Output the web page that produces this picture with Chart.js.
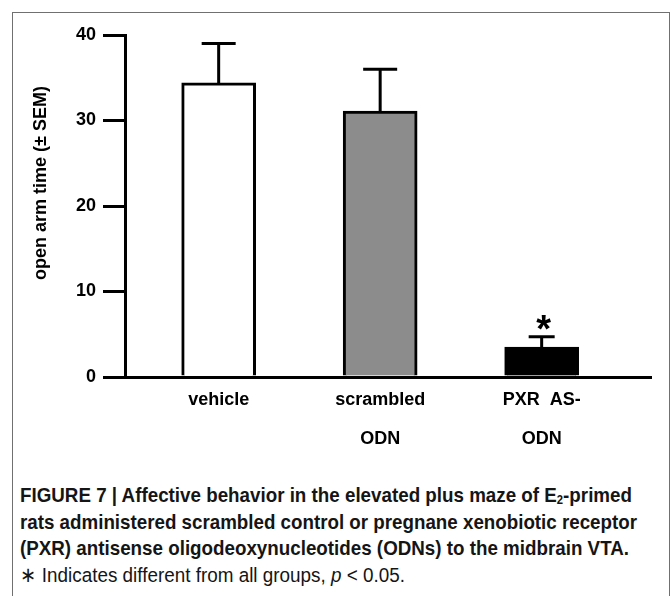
<!DOCTYPE html>
<html><head><meta charset="utf-8">
<script src="https://cdn.jsdelivr.net/npm/chart.js@4.4.1/dist/chart.umd.min.js"></script>
<style>
html,body{margin:0;padding:0;background:#fff;width:672px;height:596px;overflow:hidden}
#frame{position:absolute;left:12px;top:12px;width:658px;height:640px;border:1px solid #707070;box-sizing:border-box}
#chartWrap{position:absolute;left:0;top:0;width:672px;height:460px}
#caption{position:absolute;left:20px;top:482px;font-family:"Liberation Sans",Arial,sans-serif;font-size:20.5px;line-height:26.7px;color:#151515;white-space:nowrap}
.cl{height:26.7px}
.cl span{display:inline-block;transform-origin:0 50%}
.b{font-weight:bold}
sub{font-size:0.6em;vertical-align:-0.2em;line-height:0}
</style></head>
<body>
<div id="frame"></div>
<div id="chartWrap"><canvas id="c" width="672" height="460"></canvas></div>
<div id="caption">
  <div class="cl b"><span data-w="612">FIGURE 7 | Affective behavior in the elevated plus maze of E<sub>2</sub>-primed</span></div>
  <div class="cl b"><span data-w="617">rats administered scrambled control or pregnane xenobiotic receptor</span></div>
  <div class="cl b"><span data-w="609">(PXR) antisense oligodeoxynucleotides (ODNs) to the midbrain VTA.</span></div>
  <div class="cl"><span data-w="385">∗ Indicates different from all groups, <i>p</i> &lt; 0.05.</span></div>
</div>
<script>
// ---- data ----
const categories = [['vehicle'], ['scrambled', 'ODN'], ['PXR  AS-', 'ODN']];
const meanValues = [34.4, 31.1, 3.5];
const semValues = [4.6, 4.9, 1.2];
const significance = ['', '', '*'];
const yTickValues = [0, 10, 20, 30, 40];
const yAxisTitle = 'open arm time (± SEM)';

// ---- styles ----
const barFills = ['#ffffff', '#8c8c8c', '#000000'];
const FONT = '"Liberation Sans", Arial, sans-serif';

const errorBarPlugin = {
  id: 'errorBars',
  afterDatasetsDraw(chart, args, opts) {
    const ctx = chart.ctx, xs = chart.scales.x, ys = chart.scales.y;
    ctx.save();
    ctx.strokeStyle = '#000';
    ctx.lineWidth = 3;
    meanValues.forEach((m, i) => {
      const x = xs.getPixelForValue(i);
      const y0 = ys.getPixelForValue(m);
      const y1 = ys.getPixelForValue(m + semValues[i]);
      const half = opts.capWidths[i] / 2;
      ctx.beginPath();
      ctx.moveTo(x, y0); ctx.lineTo(x, y1);
      ctx.moveTo(x - half, y1); ctx.lineTo(x + half, y1);
      ctx.stroke();
      if (significance[i]) {
        ctx.fillStyle = '#000';
        ctx.font = 'bold 38px ' + FONT;
        ctx.textAlign = 'center';
        ctx.textBaseline = 'alphabetic';
        ctx.fillText(significance[i], x + 2, y1 + 5);
      }
    });
    ctx.restore();
  }
};

// y-axis title, placed a little above the axis centre as in the original figure
const yTitlePlugin = {
  id: 'yTitle',
  afterDraw(chart, args, opts) {
    const ctx = chart.ctx, a = chart.chartArea;
    ctx.save();
    ctx.translate(a.left + opts.dx, a.top + opts.dy);
    ctx.rotate(-Math.PI / 2);
    ctx.fillStyle = '#000';
    ctx.font = 'bold 18px ' + FONT;
    ctx.textAlign = 'center';
    ctx.textBaseline = 'middle';
    ctx.fillText(yAxisTitle, 0, 0);
    ctx.restore();
  }
};

new Chart(document.getElementById('c'), {
  type: 'bar',
  data: {
    datasets: [{
      data: meanValues.map((v, i) => ({ x: i, y: v })),
      backgroundColor: barFills,
      borderColor: '#000',
      borderWidth: 3,
      borderSkipped: 'start',
      barThickness: 74
    }]
  },
  options: {
    responsive: false,
    animation: false,
    devicePixelRatio: 1,
    layout: { padding: { top: 35, right: 21, bottom: 0, left: 0 } },
    plugins: {
      legend: { display: false },
      tooltip: { enabled: false },
      errorBars: { capWidths: [34, 34, 26] },
      yTitle: { dx: -84, dy: 148 }
    },
    scales: {
      x: {
        type: 'linear',
        min: -0.58, max: 2.677,
        offset: false,
        grid: { display: false, drawTicks: false },
        border: { display: true, color: '#000', width: 3 },
        afterBuildTicks: s => { s.ticks = categories.map((_, i) => ({ value: i })); },
        ticks: {
          autoSkip: false, maxRotation: 0, minRotation: 0, padding: 3.5, color: '#000',
          font: { family: FONT, size: 18, weight: 'bold', lineHeight: 2.17 },
          callback: v => categories[v]
        },
        afterFit: s => { s.height = 83; }
      },
      y: {
        min: 0, max: 40,
        afterBuildTicks: s => { s.ticks = yTickValues.map(v => ({ value: v })); },
        grid: { drawOnChartArea: false, drawTicks: true, tickLength: 22, color: '#000', lineWidth: 3 },
        border: { display: true, color: '#000', width: 3 },
        ticks: { padding: 7, color: '#000', font: { family: FONT, size: 18, weight: 'bold' } },
        afterFit: s => { s.width = 125; }
      }
    }
  },
  plugins: [errorBarPlugin, yTitlePlugin]
});

// fit caption lines to the reference widths
document.querySelectorAll('#caption span[data-w]').forEach(sp => {
  const w = sp.getBoundingClientRect().width;
  const target = parseFloat(sp.dataset.w);
  if (w > 0) sp.style.transform = 'scaleX(' + (target / w) + ')';
});
</script>
</body></html>
